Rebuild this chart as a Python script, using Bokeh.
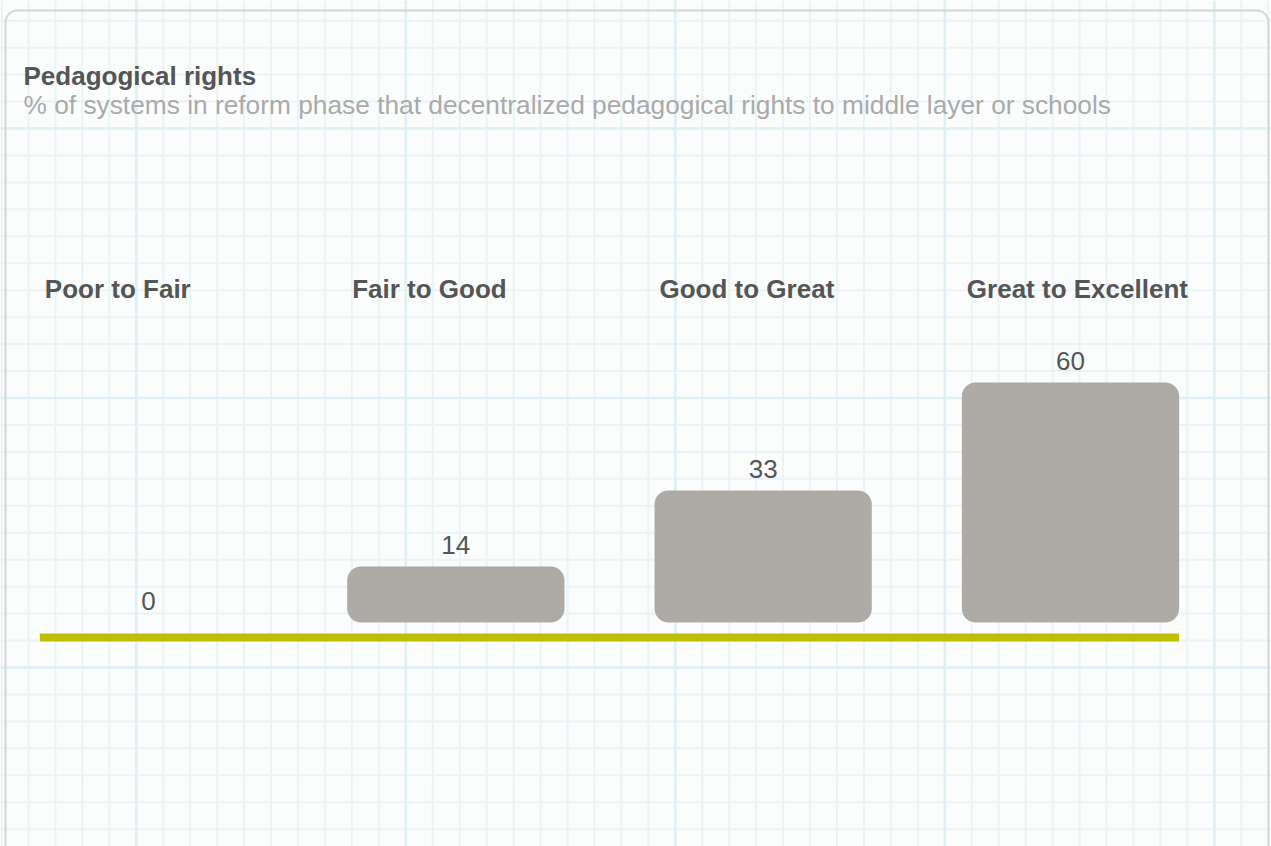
import numpy as np
from bokeh.plotting import figure
from bokeh.models import Range1d, ColumnDataSource
from bokeh.core.properties import value
from bokeh.embed import file_html
from bokeh.resources import INLINE

# ---- data ----
categories = ["Poor to Fair", "Fair to Good", "Good to Great", "Great to Excellent"]
values = [0, 14, 33, 60]
value_labels = ["0", "14", "33", "60"]
title_text = "Pedagogical rights"
subtitle_text = "% of systems in reform phase that decentralized pedagogical rights to middle layer or schools"

# ---- layout / style ----
W, H = 1271, 846
FONT = value("Liberation Sans")
BAR_W = 0.707
TEXT_DARK = "#555555"

p = figure(width=W, height=H, output_backend="svg", toolbar_location=None,
           x_range=Range1d(-0.4815, 3.654), y_range=Range1d(-56, 155.5),
           x_axis_location=None, y_axis_location=None,
           min_border=0, outline_line_color=None,
           background_fill_color="#fbfdfd", border_fill_color="#fbfdfd")
p.grid.visible = False
p.extra_x_ranges = {"px": Range1d(0, W)}
p.extra_y_ranges = {"px": Range1d(H, 0)}

# graph-paper background
cell = 26.95
vx = np.arange(1.05, W + 1, cell)
hy = np.arange(20.2, H + 1, cell)
p.segment(x0=vx, y0=0, x1=vx, y1=H, x_range_name="px", y_range_name="px",
          line_color="#eaf4f6", line_width=2)
p.segment(x0=0, y0=hy, x1=W, y1=hy, x_range_name="px", y_range_name="px",
          line_color="#eaf4f6", line_width=2)
mvx = np.arange(135.8, W + 1, cell * 10)
mhy = np.arange(128.0, H + 1, cell * 10)
p.segment(x0=mvx, y0=0, x1=mvx, y1=H, x_range_name="px", y_range_name="px",
          line_color="#dfeff4", line_width=2.5)
p.segment(x0=0, y0=mhy, x1=W, y1=mhy, x_range_name="px", y_range_name="px",
          line_color="#dfeff4", line_width=2.5)

# panel border
p.quad(left=[5], right=[1268], top=[10], bottom=[H + 20],
       x_range_name="px", y_range_name="px",
       fill_color=None, line_color="#d6d6d6", line_width=2, border_radius=12)

# bars
idx = list(range(len(categories)))
src = ColumnDataSource(dict(x=idx, top=values, lab=value_labels, cat=categories,
                            left=[i - BAR_W / 2 for i in idx]))
p.vbar(x="x", top="top", bottom=0, width=BAR_W, source=src,
       fill_color="#aeaba7", line_color=None, border_radius=14)

# baseline
p.segment(x0=[idx[0] - BAR_W / 2], y0=[-3.75], x1=[idx[-1] + BAR_W / 2], y1=[-3.75],
          line_color="#bdbf00", line_width=8, line_cap="butt")

# value labels
p.text(x="x", y="top", text="lab", source=src, text_align="center",
       text_baseline="alphabetic", y_offset=-22, text_font=FONT,
       text_font_size="26px", text_color=TEXT_DARK)

# category labels
p.text(x="left", y=288, text="cat", source=src, y_range_name="px",
       text_align="left", text_baseline="alphabetic", x_offset=5,
       text_font=FONT, text_font_size="26px", text_font_style="bold",
       text_color=TEXT_DARK)

# title / subtitle
p.text(x=[23], y=[75], text=[title_text], x_range_name="px", y_range_name="px",
       text_align="left", text_baseline="alphabetic", text_font=FONT,
       text_font_size="26px", text_font_style="bold", text_color=TEXT_DARK)
p.text(x=[23], y=[104], text=[subtitle_text], x_range_name="px", y_range_name="px",
       text_align="left", text_baseline="alphabetic", text_font=FONT,
       text_font_size="26.3px", text_color="#aaaaaa")

open("out.html", "w").write(file_html(p, INLINE))
